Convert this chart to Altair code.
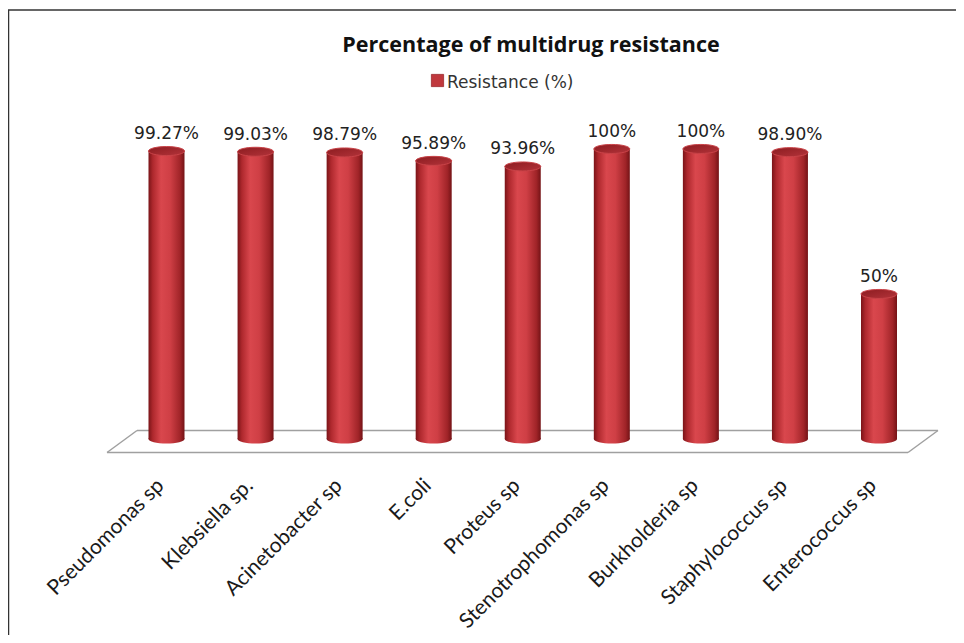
import altair as alt
import pandas as pd

categories = ["Pseudomonas sp", "Klebsiella sp.", "Acinetobacter sp", "E.coli", "Proteus sp",
              "Stenotrophomonas sp", "Burkholderia sp", "Staphylococcus sp", "Enterococcus sp"]
values = [99.27, 99.03, 98.79, 95.89, 93.96, 100, 100, 98.90, 50]
value_labels = ["99.27%", "99.03%", "98.79%", "95.89%", "93.96%", "100%", "100%", "98.90%", "50%"]
chart_title = "Percentage of multidrug resistance"
series_name = "Resistance (%)"

W, H = 948, 627
BAR_W = 36

df = pd.DataFrame({"cat": categories, "val": values, "lab": value_labels})
one = pd.DataFrame({"k": [0]})

xscale = alt.Scale(type="point", domain=categories, range=[158.5, 871], padding=0)
xs = alt.X("cat:N", sort=categories, axis=None, scale=xscale)
yscale = alt.Scale(domain=[-67.6, 148.6], nice=False, zero=False)
ys = alt.Y("val:Q", axis=None, scale=yscale)

body_grad = alt.Gradient(
    gradient="linear", x1=0, x2=1, y1=0, y2=0,
    stops=[alt.GradientStop(offset=0, color="#7A1418"),
           alt.GradientStop(offset=0.12, color="#AE282D"),
           alt.GradientStop(offset=0.35, color="#D9474D"),
           alt.GradientStop(offset=0.6, color="#CF3F45"),
           alt.GradientStop(offset=0.88, color="#A02428"),
           alt.GradientStop(offset=1, color="#741316")])
top_grad = alt.Gradient(
    gradient="linear", x1=0, x2=1, y1=0, y2=1,
    stops=[alt.GradientStop(offset=0, color="#8C1C20"),
           alt.GradientStop(offset=1, color="#B3333A")])

ellipse = "M-1,0A1,0.25,0,1,1,1,0A1,0.25,0,1,1,-1,0Z"

deco_color = "#A0A0A0"
base1 = alt.Chart(one)
floor = alt.layer(
    base1.mark_rule(color=deco_color, strokeWidth=1.5).encode(
        x=alt.value(129), x2=alt.value(930), y=alt.value(422.5), y2=alt.value(422.5)),
    base1.mark_rule(color=deco_color, strokeWidth=1.5).encode(
        x=alt.value(99), x2=alt.value(900), y=alt.value(444.5), y2=alt.value(444.5)),
    base1.mark_rule(color=deco_color, strokeWidth=1.5).encode(
        x=alt.value(129), x2=alt.value(99), y=alt.value(422.5), y2=alt.value(444.5)),
    base1.mark_rule(color=deco_color, strokeWidth=1.5).encode(
        x=alt.value(930), x2=alt.value(900), y=alt.value(422.5), y2=alt.value(444.5)),
)

frame = alt.layer(
    base1.mark_rule(color="#333333", strokeWidth=1.5).encode(
        x=alt.value(0), x2=alt.value(W), y=alt.value(2), y2=alt.value(2)),
    base1.mark_rule(color="#333333", strokeWidth=1.5).encode(
        x=alt.value(0.5), x2=alt.value(0.5), y=alt.value(2), y2=alt.value(H)),
)

base = alt.Chart(df)
bottoms = base.mark_point(shape=ellipse, filled=True, fill=body_grad, opacity=1, strokeWidth=0).encode(
    x=xs, y=alt.Y("z:Q", scale=yscale, axis=None),
    size=alt.value(BAR_W * BAR_W)).transform_calculate(z="0")
bodies = base.mark_bar(fill=body_grad).encode(x=xs, y=ys, y2=alt.datum(0), size=alt.value(BAR_W))
tops = base.mark_point(shape=ellipse, filled=True, fill=top_grad, opacity=1,
                       stroke="#C94348", strokeWidth=1).encode(
    x=xs, y=ys, size=alt.value(BAR_W * BAR_W))
vlabels = base.mark_text(font="DejaVu Sans", fontSize=17, color="#222222", baseline="alphabetic",
                         dy=-12).encode(x=xs, y=ys, text="lab:N")
xlabels = base.mark_text(font="Lato", fontSize=21, color="#1A1A1A", angle=315, align="right",
                         baseline="middle", dx=-8).encode(x=xs, y=alt.value(469), text="cat:N")

title = base1.mark_text(font="Open Sans", fontSize=21.5, fontWeight="bold", color="#111111",
                        align="center", baseline="alphabetic").encode(
    x=alt.value(523), y=alt.value(44), text=alt.value(chart_title))
leg_sq = base1.mark_square(color="#C0383D", opacity=1, stroke="#9A2A2E", strokeWidth=0.8).encode(
    x=alt.value(429.5), y=alt.value(72.5), size=alt.value(150))
leg_txt = base1.mark_text(font="DejaVu Sans", fontSize=17, color="#333333", align="left",
                          baseline="alphabetic").encode(
    x=alt.value(439), y=alt.value(80), text=alt.value(series_name))

chart = alt.layer(frame, floor, bottoms, bodies, tops, vlabels, xlabels, title, leg_sq, leg_txt).properties(
    width=W, height=H, padding=0, autosize=alt.AutoSizeParams(type="none"),
    background="white"
).configure_view(stroke=None)

chart.save("out.html", embed_options={"renderer": "svg", "actions": False})
